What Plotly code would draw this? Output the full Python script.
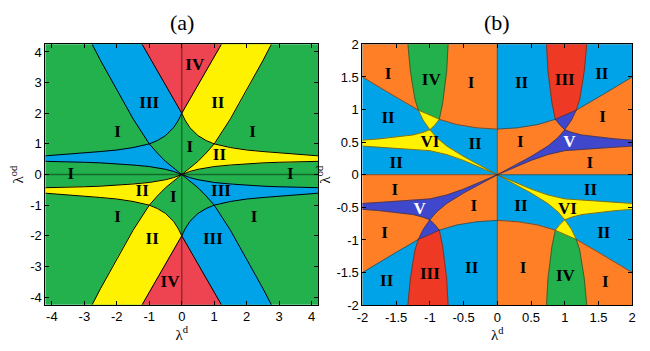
import plotly.graph_objects as go

# ================= panel (a): boundary curves in the upper-left quadrant =================
A_x = [0, -0.1, -0.25, -0.5, -0.75, -1.0, -1.5, -2.0, -2.5, -3.0, -3.5, -4.2]
A_y = [2.0, 1.78, 1.53, 1.27, 1.11, 1.0, 0.88, 0.8, 0.75, 0.71, 0.66, 0.61]
B_x = [0, -0.1, -0.25, -0.5, -1.0, -1.5, -2.0, -2.5, -3.0, -3.5, -4.2]
B_y = [0, 0.05, 0.1, 0.17, 0.26, 0.31, 0.35, 0.38, 0.4, 0.41, 0.43]
C_x = [0, -0.25, -0.5, -0.75, -1.0, -1.5, -2.0, -2.5, -2.76]
C_y = [0, 0.2, 0.43, 0.7, 1.0, 1.82, 2.75, 3.72, 4.25]
D_x = [0, -0.61, -1.22]
D_y = [2.0, 3.125, 4.25]
A_XMAX, A_YMAX = 4.2, 4.25

# labels of panel (a)
a_lab_text = ["IV", "III", "II", "I", "I", "I", "II", "I", "I",
              "II", "I", "III", "I", "I", "II", "III", "IV"]
a_lab_x = [0.4, -1.0, 1.11, -1.98, 2.18, 0.25, 1.16, -3.42, 3.34,
           -1.22, -0.26, 1.21, -1.98, 2.23, -0.91, 0.96, -0.36]
a_lab_y = [3.55, 2.3, 2.3, 1.36, 1.36, 0.89, 0.6, 0.0, 0.0,
           -0.56, -0.77, -0.56, -1.4, -1.4, -2.13, -2.13, -3.53]

# ================= panel (b): boundary curves in the upper-left quadrant =================
E_x = [-2.0, -1.75, -1.5, -1.25, -1.17, -1.0, -0.86, -0.6, -0.3, 0]
E_y = [1.5, 1.34, 1.19, 1.04, 0.99, 0.915, 0.85, 0.77, 0.72, 0.70]
F1u_x = [-1.326, -1.31, -1.29, -1.26, -1.22, -1.17, -1.1, -1.0]
F1u_y = [2.0, 1.8, 1.6, 1.4, 1.15, 0.99, 0.84, 0.69]
F1l_x = [-1.0, -0.9, -0.75, -0.5, -0.25, 0]
F1l_y = [0.69, 0.57, 0.44, 0.28, 0.14, 0]
F2u_x = [-0.73, -0.74, -0.75, -0.78, -0.81, -0.86, -0.93, -1.0]
F2u_y = [2.0, 1.8, 1.6, 1.35, 1.1, 0.85, 0.76, 0.69]
F2l_x = [-1.0, -1.1, -1.25, -1.5, -1.75, -2.0]
F2l_y = [0.69, 0.65, 0.61, 0.575, 0.55, 0.53]
G_x = [-2.0, -1.75, -1.5, -1.25, -1.0, -0.75, -0.5, -0.25, 0]
G_y = [0.44, 0.425, 0.41, 0.39, 0.37, 0.31, 0.22, 0.11, 0]
B_LIM = 2.0

b_lab_text = ["I", "IV", "I", "II", "III", "II", "II", "I", "VI", "II", "I", "V", "II", "I",
              "I", "II", "V", "I", "II", "VI", "I", "II", "II", "III", "II", "I", "IV", "I"]
b_lab_x = [-1.62, -0.98, -0.39, 0.36, 1.0, 1.55, -1.62, 1.56, -1.0, -0.33, 0.34, 1.07, -1.5, 1.37,
           -1.52, 1.38, -1.15, -0.35, 0.35, 1.04, -1.67, 1.58, -1.64, -1.0, -0.38, 0.38, 1.01, 1.6]
b_lab_y = [1.54, 1.44, 1.39, 1.39, 1.44, 1.54, 0.86, 0.88, 0.49, 0.46, 0.49, 0.49, 0.17, 0.17,
           -0.24, -0.24, -0.54, -0.49, -0.49, -0.54, -0.9, -0.9, -1.64, -1.54, -1.44, -1.44, -1.56, -1.66]
b_lab_white = ["V"]

# colours
GREEN_A = "#22B14C"
BLUE = "#00A2E8"
YELLOW = "#FFF200"
RED_A = "#EE4350"
ORANGE = "#FF7F27"
GREEN_B = "#22B14C"
RED_B = "#EE3A24"
PURPLE = "#3F48CC"

fig = go.Figure()


def poly(xs, ys, color, xa, ya):
    fig.add_trace(go.Scatter(x=xs + [xs[0]], y=ys + [ys[0]], mode="lines", fill="toself",
                             fillcolor=color, line=dict(width=0.6, color=color),
                             hoverinfo="skip", showlegend=False, xaxis=xa, yaxis=ya))


def line(xs, ys, color, width, xa, ya):
    fig.add_trace(go.Scatter(x=xs, y=ys, mode="lines", line=dict(color=color, width=width),
                             hoverinfo="skip", showlegend=False, xaxis=xa, yaxis=ya))


def m(vals, s):
    return [s * v for v in vals]


# ---------------- panel (a) ----------------
poly([-A_XMAX, A_XMAX, A_XMAX, -A_XMAX], [-A_YMAX, -A_YMAX, A_YMAX, A_YMAX], GREEN_A, "x", "y")
quad_a = [(1, 1, BLUE), (-1, 1, YELLOW), (1, -1, YELLOW), (-1, -1, BLUE)]
for sx, sy, col in quad_a:
    # region III / II (big wedge)
    px = D_x + [C_x[-1]] + C_x[4:][::-1] + A_x[:5][::-1]
    py = D_y + [A_YMAX] + C_y[4:][::-1] + A_y[:5][::-1]
    poly(m(px, sx), m(py, sy), col, "x", "y")
    # thin strip
    px = A_x[5:] + B_x[::-1] + C_x[1:5]
    py = A_y[5:] + B_y[::-1] + C_y[1:5]
    poly(m(px, sx), m(py, sy), col, "x", "y")
for sy in (1, -1):
    px = D_x + m(D_x[::-1], -1)
    py = D_y + D_y[::-1]
    poly(px, m(py, sy), RED_A, "x", "y")

line([0, 0], [-A_YMAX, A_YMAX], "rgba(0,0,0,0.4)", 1.4, "x", "y")
line([-A_XMAX, A_XMAX], [0, 0], "rgba(0,0,0,0.4)", 1.4, "x", "y")
for sx in (1, -1):
    for sy in (1, -1):
        for cx, cy in ((A_x, A_y), (B_x, B_y), (C_x, C_y), (D_x, D_y)):
            line(m(cx, sx), m(cy, sy), "black", 1, "x", "y")

# ---------------- panel (b) ----------------
pal_1 = dict(base=BLUE, top=ORANGE, u=GREEN_B, x=YELLOW)
pal_2 = dict(base=ORANGE, top=BLUE, u=RED_B, x=PURPLE)
quad_b = [(1, 1, pal_1), (-1, 1, pal_2), (1, -1, pal_2), (-1, -1, pal_1)]
for sx, sy, pal in quad_b:
    poly(m([-B_LIM, 0, 0, -B_LIM], sx), m([0, 0, B_LIM, B_LIM], sy), pal["base"], "x2", "y2")
    poly(m(E_x + [0, -B_LIM], sx), m(E_y + [B_LIM, B_LIM], sy), pal["top"], "x2", "y2")
    px = F1u_x[:6] + E_x[5:7] + F2u_x[:6][::-1]
    py = F1u_y[:6] + E_y[5:7] + F2u_y[:6][::-1]
    poly(m(px, sx), m(py, sy), pal["u"], "x2", "y2")
    px = E_x[4:7] + F2u_x[6:] + F1u_x[5:7][::-1]
    py = E_y[4:7] + F2u_y[6:] + F1u_y[5:7][::-1]
    poly(m(px, sx), m(py, sy), pal["x"], "x2", "y2")
    px = F2l_x + G_x + F1l_x[::-1]
    py = F2l_y + G_y + F1l_y[::-1]
    poly(m(px, sx), m(py, sy), pal["x"], "x2", "y2")

BL = "rgba(70,40,20,0.75)"
line([0, 0], [-B_LIM, B_LIM], BL, 0.8, "x2", "y2")
line([-B_LIM, B_LIM], [0, 0], BL, 0.8, "x2", "y2")
for sx in (1, -1):
    for sy in (1, -1):
        for cx, cy in ((E_x, E_y), (F1u_x, F1u_y), (F1l_x, F1l_y), (F2u_x, F2u_y),
                       (F2l_x, F2l_y), (G_x, G_y)):
            line(m(cx, sx), m(cy, sy), BL, 0.8, "x2", "y2")

# ---------------- labels ----------------
SERIF = "Liberation Serif, Times New Roman, serif"
LAB_FONT = dict(family=SERIF, size=17, color="black", weight="bold")
fig.add_trace(go.Scatter(x=a_lab_x, y=a_lab_y, mode="text", text=a_lab_text, textfont=LAB_FONT,
                         hoverinfo="skip", showlegend=False, xaxis="x", yaxis="y"))
b_cols = ["white" if t in b_lab_white else "black" for t in b_lab_text]
fig.add_trace(go.Scatter(x=b_lab_x, y=b_lab_y, mode="text", text=b_lab_text,
                         textfont=dict(family=SERIF, size=17, color=b_cols, weight="bold"),
                         hoverinfo="skip", showlegend=False, xaxis="x2", yaxis="y2"))

# ---------------- axes ----------------
TICK_FONT = dict(family="Liberation Sans, Arial, sans-serif", size=13, color="black")
a_ticks = [-4, -3, -2, -1, 0, 1, 2, 3, 4]
a_ticktext = [str(v) for v in a_ticks]
b_ticks = [-2, -1.5, -1, -0.5, 0, 0.5, 1, 1.5, 2]
b_ticktext = ["-2", "-1.5", "-1", "-0.5", "0", "0.5", "1", "1.5", "2"]

common = dict(showgrid=False, zeroline=False, showline=True, linecolor="black", linewidth=1,
              mirror="ticks", ticks="inside", ticklen=4, tickcolor="black", tickfont=TICK_FONT,
              tickmode="array")
TITLE_FONT = dict(family=SERIF, size=15, color="black")

fig.update_layout(
    width=650, height=351, margin=dict(l=0, r=0, t=0, b=0),
    paper_bgcolor="white", plot_bgcolor="white",
    xaxis=dict(domain=[40 / 650, 317 / 650], range=[-A_XMAX, A_XMAX], anchor="y",
               tickvals=a_ticks, ticktext=a_ticktext,
               title=dict(text="λ<sup>d</sup>", font=TITLE_FONT, standoff=4), **common),
    yaxis=dict(domain=[40 / 351, 312 / 351], range=[-A_YMAX, A_YMAX], anchor="x",
               tickvals=a_ticks, ticktext=a_ticktext,
               title=dict(text="λ<sup>od</sup>", font=TITLE_FONT, standoff=2), **common),
    xaxis2=dict(domain=[362 / 650, 636 / 650], range=[-B_LIM, B_LIM], anchor="y2",
                tickvals=b_ticks, ticktext=b_ticktext,
                title=dict(text="λ<sup>d</sup>", font=TITLE_FONT, standoff=4), **common),
    yaxis2=dict(domain=[39.5 / 351, 312 / 351], range=[-B_LIM, B_LIM], anchor="x2",
                tickvals=b_ticks, ticktext=b_ticktext,
                title=dict(text="λ<sup>od</sup>", font=TITLE_FONT, standoff=2), **common),
    annotations=[
        dict(text="(a)", x=(40 + 317) / 2 / 650, y=1 - 16 / 351, xref="paper", yref="paper",
             xanchor="center", yanchor="middle", showarrow=False,
             font=dict(family=SERIF, size=22, color="black")),
        dict(text="(b)", x=(362 + 636) / 2 / 650, y=1 - 16 / 351, xref="paper", yref="paper",
             xanchor="center", yanchor="middle", showarrow=False,
             font=dict(family=SERIF, size=22, color="black")),
    ],
)

fig.write_html("out.html")
